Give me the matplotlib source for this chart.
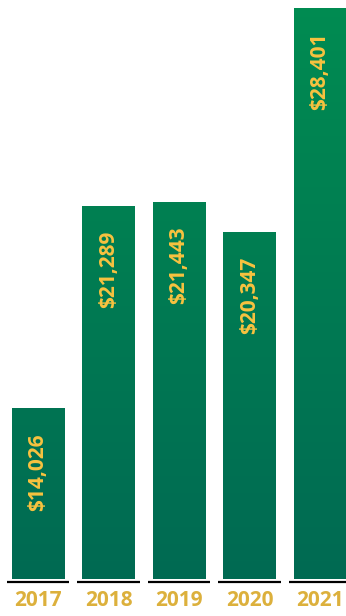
import numpy as np
import matplotlib
matplotlib.use("Agg")
import matplotlib.pyplot as plt
from matplotlib.colors import LinearSegmentedColormap
from matplotlib.transforms import blended_transform_factory

years = ["2017", "2018", "2019", "2020", "2021"]
values = [14026, 21289, 21443, 20347, 28401]
value_labels = ["$14,026", "$21,289", "$21,443", "$20,347", "$28,401"]

GREEN_TOP = "#008C51"
GREEN_BOTTOM = "#006A53"
LABEL_GOLD = "#F8C23F"
YEAR_GOLD = "#DCB03C"

plt.rcParams["font.family"] = ["Open Sans", "DejaVu Sans"]

W, H = 346, 616
fig = plt.figure(figsize=(W / 100, H / 100), dpi=100)
base_px = 37
ax = fig.add_axes([0, base_px / H, 1, (H - base_px) / H])
ax.set_axis_off()

x = np.arange(len(years))
ymin, ymax = 7900, 28680
xmin, xmax = -0.539, 4.369

bars = ax.bar(x, values, width=0.738, color="none", edgecolor="none")

# vertical gradient fixed to the axes, clipped to each bar
cmap = LinearSegmentedColormap.from_list("grn", [GREEN_BOTTOM, GREEN_TOP])
grad = np.linspace(0, 1, 256).reshape(-1, 1)
for bar in bars:
    im = ax.imshow(grad, extent=[xmin, xmax, ymin, ymax], origin="lower",
                   aspect="auto", cmap=cmap, interpolation="bicubic", zorder=1)
    im.set_clip_path(bar)

ax.set_xlim(xmin, xmax)
ax.set_ylim(ymin, ymax)

# value labels, rotated, hanging from the top of each bar
for xi, v, lab in zip(x, values, value_labels):
    ax.annotate(lab, (xi, v), xytext=(0, -25), textcoords="offset pixels",
                rotation=90, ha="center", va="top", color=LABEL_GOLD,
                fontsize=15, fontweight="bold", zorder=3)

# short baseline under each bar and the year below it
tr = blended_transform_factory(ax.transData, ax.transAxes)
line_y = -2.5 / (H - base_px)
year_y = -(22) / (H - base_px)
for xi, yr in zip(x, years):
    ax.plot([xi - 0.44, xi + 0.44], [line_y, line_y], transform=tr,
            color="black", lw=1.6, solid_capstyle="butt", clip_on=False)
    ax.text(xi, year_y, yr, transform=tr, ha="center", va="center",
            color=YEAR_GOLD, fontsize=15, fontweight="bold", clip_on=False)

fig.savefig("out.png", dpi=100)
